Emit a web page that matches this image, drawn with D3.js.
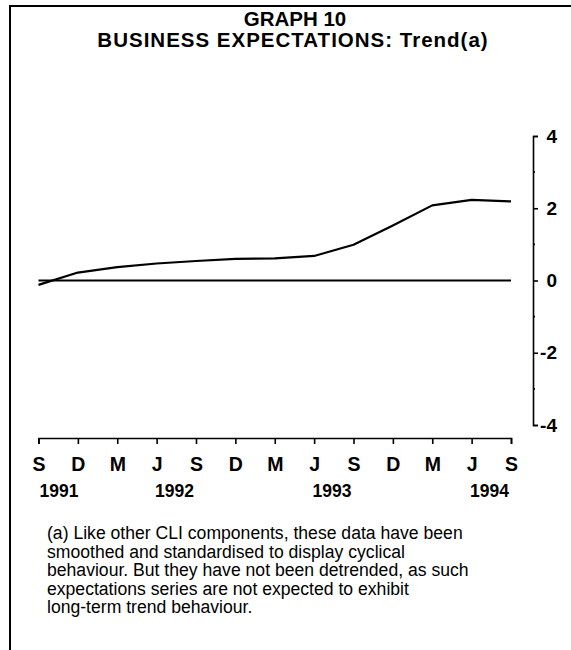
<!DOCTYPE html>
<html>
<head>
<meta charset="utf-8">
<script src="https://cdn.jsdelivr.net/npm/d3@7"></script>
<style>
  body { margin: 0; background: #fff; }
  svg { font-family: "Liberation Sans", Arial, sans-serif; }
  .axis path, .axis line { stroke: #000; stroke-width: 1.6; }
  .axis text { fill: #000; font-weight: bold; font-family: "Liberation Sans", Arial, sans-serif; }
</style>
</head>
<body>
<script>
// quarters from Sep 1991 to Sep 1994
var quarters = ["S", "D", "M", "J", "S", "D", "M", "J", "S", "D", "M", "J", "S"];
var years = ["1991", "", "", "", "1992", "", "", "", "1993", "", "", "", "1994"];
var trend = [-0.12, 0.22, 0.37, 0.47, 0.54, 0.60, 0.61, 0.68, 0.99, 1.52, 2.08, 2.23, 2.19];
var yTicks = [-4, -2, 0, 2, 4];
var yMinor = [-3, -1, 1, 3];
var footnote = [
  "(a) Like other CLI components, these data have been",
  "smoothed and standardised to display cyclical",
  "behaviour. But they have not been detrended, as such",
  "expectations series are not expected to exhibit",
  "long-term trend behaviour."
];

var width = 571, height = 650;

var svg = d3.select("body").append("svg")
  .attr("width", width)
  .attr("height", height);

// frame (top and left edges only)
svg.append("path")
  .attr("d", "M10,650 V6 H571")
  .attr("fill", "none")
  .attr("stroke", "#000")
  .attr("stroke-width", 2);

// title
svg.append("text")
  .attr("x", 295).attr("y", 26)
  .attr("text-anchor", "middle")
  .attr("font-weight", "bold")
  .attr("font-size", 20.5)
  .text("GRAPH 10");
svg.append("text")
  .attr("x", 293).attr("y", 47)
  .attr("text-anchor", "middle")
  .attr("font-weight", "bold")
  .attr("font-size", 20.5)
  .attr("letter-spacing", 1)
  .text("BUSINESS EXPECTATIONS: Trend(a)");

var idx = d3.range(quarters.length);
var x = d3.scaleLinear().domain([0, quarters.length - 1]).range([38.5, 511]);
var y = d3.scaleLinear().domain([-4, 4]).range([425, 136]);

// y axis on the right
var yAxis = d3.axisRight(y).tickValues(yTicks).tickSize(5).tickSizeOuter(5)
  .tickFormat(function(d) { return d < 0 ? "-" + (-d) : "" + d; });
var gy = svg.append("g")
  .attr("class", "axis")
  .attr("transform", "translate(533,0)")
  .call(yAxis);
gy.selectAll("text").attr("font-size", 19).attr("text-anchor", "end").attr("x", 24);

svg.append("g")
  .attr("class", "axis")
  .attr("transform", "translate(533,0)")
  .selectAll("line")
  .data(yMinor)
  .enter().append("line")
  .attr("x1", 0).attr("x2", 2)
  .attr("y1", function(d) { return y(d); })
  .attr("y2", function(d) { return y(d); });

// x axis
var xAxis = d3.axisBottom(x).tickValues(idx).tickSize(6).tickSizeOuter(6)
  .tickFormat(function(i) { return quarters[i]; });
var gx = svg.append("g")
  .attr("class", "axis")
  .attr("transform", "translate(0,438)")
  .call(xAxis);
gx.selectAll("text").attr("font-size", 19.5).attr("dy", null).attr("y", 33);

// years under the quarters: first one starts at its tick, the rest end at theirs
svg.append("g")
  .selectAll("text")
  .data(idx.filter(function(i) { return years[i] !== ""; }))
  .enter().append("text")
  .attr("x", function(i) { return i === 0 ? x(i) + 1 : x(i) - 2; })
  .attr("y", 497)
  .attr("text-anchor", function(i) { return i === 0 ? "start" : "end"; })
  .attr("font-size", 17.5)
  .attr("font-weight", "bold")
  .text(function(i) { return years[i]; });

// zero line
svg.append("line")
  .attr("x1", x(0)).attr("x2", x(quarters.length - 1))
  .attr("y1", y(0)).attr("y2", y(0))
  .attr("stroke", "#000")
  .attr("stroke-width", 2);

// trend line
var line = d3.line()
  .x(function(d, i) { return x(i); })
  .y(function(d) { return y(d); });

svg.append("path")
  .datum(trend)
  .attr("d", line)
  .attr("fill", "none")
  .attr("stroke", "#000")
  .attr("stroke-width", 2.2)
  .attr("stroke-linejoin", "round");

// footnote
svg.append("g")
  .selectAll("text")
  .data(footnote)
  .enter().append("text")
  .attr("x", 47)
  .attr("y", function(d, i) { return 539 + i * 18.5; })
  .attr("font-size", 17.6)
  .text(function(d) { return d; });
</script>
</body>
</html>
